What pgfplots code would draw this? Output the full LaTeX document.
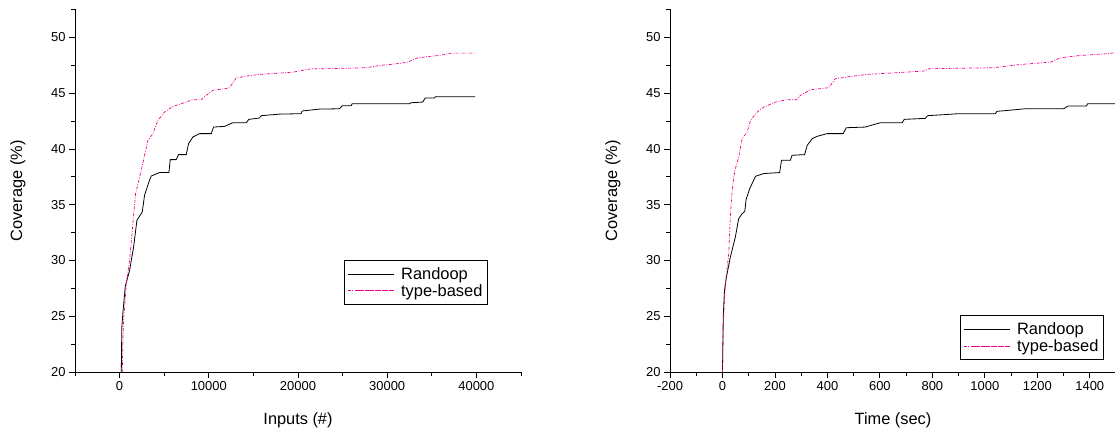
\documentclass[border=0pt]{standalone}
\usepackage{fontspec}
\setmainfont{Liberation Sans}
\usepackage{pgfplots}
\pgfplotsset{compat=1.18}
\begin{document}
\begin{tikzpicture}
\path[use as bounding box] (0,0) rectangle (1115bp,429bp);
\pgfplotsset{
  mystyle/.style={
    scale only axis, width=446bp, height=362.5bp,
    anchor=south west,
    axis x line*=bottom, axis y line*=left,
    axis line style={-, line width=0.8bp},
    tick align=outside,
    major tick length=6bp, minor tick length=4bp,
    every tick/.style={black, line width=0.8bp},
    ymin=20, ymax=52.5, ytick={20,25,...,50}, minor ytick={22.5,27.5,...,52.5},
    tick label style={font=\fontsize{13}{15}\selectfont},
    /pgf/number format/assume math mode=true,
    /pgf/number format/set thousands separator={},
    scaled x ticks=false,
    ylabel={Coverage (\%)},
    every axis y label/.style={at={(axis description cs:-0.128,0.5)}, anchor=center, rotate=90, font=\fontsize{16.4}{19}\selectfont},
    every axis x label/.style={at={(axis description cs:0.5,-0.134)}, anchor=center, font=\fontsize{16.4}{19}\selectfont},
    legend style={font=\fontsize{16.5}{18}\selectfont, anchor=south west, draw=black, line width=0.8bp, inner xsep=3bp, inner ysep=5bp, row sep=-1bp},
    legend cell align=left,
    legend image code/.code={\path (-6bp,0bp) -- (40bp,0bp); \draw[##1] (4bp,0bp) -- (40bp,0bp);},
  },
  rand/.style={black, line width=0.8bp},
  typeb/.style={magenta, line width=0.7bp, dash pattern=on 3bp off 1.5bp on 0.8bp off 1.5bp},
}
\begin{axis}[mystyle, at={(75bp,57bp)}, xmin=-5000, xmax=45000,
  xtick={0,10000,...,40000}, minor xtick={-5000,5000,...,45000},
  xlabel={Inputs (\#)}, legend style={at={(0.603,0.185)}}]
\addplot[rand] coordinates {
(190,20) (250,24) (370,25.3) (638,27.7) (1120,29.1) (1569,31.2) (1942,33.6) (2540,34.35) (2800,35.85) (3361,37.2) (3548,37.57) (4482,37.88) (5528,37.88) (5677,39.04) (6349,39.04) (6611,39.49) (7470,39.49) (7731,40.47) (8217,41.07) (8964,41.37) (10270,41.37) (10532,41.96) (11765,42.02) (12700,42.35) (14190,42.35) (14490,42.65) (15690,42.77) (15870,42.98) (17930,43.12) (20350,43.16) (20470,43.4) (22410,43.57) (24650,43.6) (24950,43.87) (25960,43.87) (26070,44.05) (32490,44.05) (32680,44.14) (33980,44.2) (34250,44.56) (35290,44.56) (35410,44.68) (39850,44.68)
};
\addplot[typeb] coordinates {
(300,20) (380,23) (450,24.65) (750,27.9) (1120,30.0) (1420,32.7) (1793,36.0) (2165,37.2) (2430,38.1) (3175,40.77) (3735,41.37) (4290,42.56) (5040,43.3) (5975,43.81) (7090,44.1) (8210,44.41) (9150,44.41) (9710,44.8) (10450,45.25) (12140,45.45) (12510,45.7) (13070,46.35) (14190,46.53) (15690,46.68) (19420,46.88) (21470,47.19) (23160,47.19) (27640,47.28) (29130,47.48) (31000,47.63) (32310,47.78) (33430,48.17) (34730,48.29) (35850,48.38) (37160,48.59) (39780,48.59)
};
\legend{\hspace{5bp}Randoop, \hspace{5bp}type-based}
\end{axis}
\begin{axis}[mystyle, at={(670bp,57bp)}, xmin=-200, xmax=1500,
  xtick={-200,0,...,1400}, minor xtick={-100,100,...,1500},
  xlabel={Time (sec)}, legend style={at={(0.650,0.033)}}]
\addplot[rand] coordinates {
(0,20) (3,25) (7.6,27.3) (15,28.5) (30,30.3) (49,32.1) (62,33.76) (75,34.2) (85,34.4) (90,35.46) (104,36.45) (119,37.2) (126,37.55) (157,37.79) (218,37.88) (225,38.98) (259,38.98) (265,39.43) (313,39.49) (323,40.32) (342,40.92) (361,41.13) (399,41.37) (460,41.37) (472,41.9) (545,41.96) (570,42.14) (602,42.35) (685,42.35) (693,42.65) (773,42.74) (782,42.98) (843,43.07) (900,43.16) (1040,43.16) (1046,43.37) (1091,43.46) (1154,43.6) (1300,43.6) (1317,43.84) (1387,43.84) (1392,44.05) (1499,44.05)
};
\addplot[typeb] coordinates {
(0,20) (2,23) (5,25.25) (11,27.94) (24,30.63) (30,34.0) (36,36.0) (43,37.5) (50,38.3) (62,39.28) (75,40.92) (94,41.51) (107,42.56) (132,43.3) (157,43.75) (202,44.2) (246,44.41) (284,44.41) (297,44.8) (335,45.3) (405,45.49) (430,46.29) (488,46.5) (551,46.68) (640,46.8) (767,46.98) (787,47.19) (1034,47.28) (1135,47.57) (1250,47.78) (1288,48.17) (1364,48.38) (1465,48.53) (1497,48.62)
};
\legend{\hspace{5bp}Randoop, \hspace{5bp}type-based}
\end{axis}
\end{tikzpicture}
\end{document}
